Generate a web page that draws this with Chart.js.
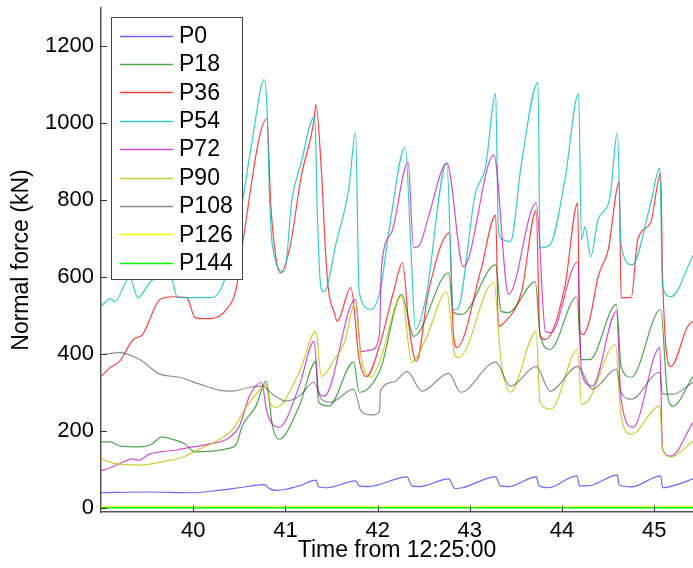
<!DOCTYPE html>
<html lang="en">
<head>
    <meta charset="UTF-8">
    <title>Normal force</title>
    <style>
        body { margin: 0; padding: 0; background: #fff; overflow: hidden; }
        #chart { display: block; }
    </style>
    <script src="https://cdn.jsdelivr.net/npm/chart.js@4.4.1/dist/chart.umd.min.js"></script>
</head>
<body>
    <canvas id="chart" width="693" height="568"></canvas>
    <script>
        // tick labels
        const xTicks = [40, 41, 42, 43, 44, 45];
        const yTicks = [0, 200, 400, 600, 800, 1000, 1200];
        const seriesNames = ['P0', 'P18', 'P36', 'P54', 'P72', 'P90', 'P108', 'P126', 'P144'];

        // time (min after 12:25:00) and force (kN) for each series
        const p0T = [39.0, 39.5, 39.99, 40.3, 40.5, 40.77, 40.83, 40.9, 41.15, 41.33, 41.36, 41.45, 41.76, 41.8, 41.9, 42.32, 42.37, 42.45, 42.77, 42.84, 42.92, 43.28, 43.33, 43.42, 43.72, 43.75, 43.85, 44.16, 44.19, 44.28, 44.6, 44.62, 44.75, 45.07, 45.09, 45.2, 45.42];
        const p0V = [39, 41, 39, 46, 52, 60, 49, 45, 57, 72, 54, 52, 70, 57, 55, 80, 57, 55, 75, 50, 52, 80, 57, 55, 80, 57, 52, 83, 57, 57, 85, 59, 54, 83, 52, 57, 75];

        const p18T = [39.0, 39.1, 39.21, 39.42, 39.55, 39.66, 39.77, 39.91, 40.02, 40.2, 40.36, 40.47, 40.53, 40.68, 40.79, 40.86, 40.93, 41.15, 41.33, 41.36, 41.47, 41.74, 41.8, 42.03, 42.26, 42.36, 42.39, 42.77, 42.82, 42.91, 43.28, 43.34, 43.42, 43.71, 43.76, 43.87, 44.16, 44.21, 44.3, 44.59, 44.64, 44.75, 45.07, 45.14, 45.2, 45.42];
        const p18V = [171, 171, 160, 158, 165, 184, 178, 166, 145, 147, 153, 166, 212, 264, 329, 212, 178, 264, 380, 274, 264, 378, 300, 360, 554, 463, 445, 610, 507, 502, 631, 510, 507, 587, 455, 411, 548, 385, 385, 528, 367, 339, 515, 300, 264, 341];

        const p36T = [39.0, 39.1, 39.2, 39.35, 39.45, 39.64, 39.78, 39.93, 40.02, 40.14, 40.36, 40.47, 40.53, 40.8, 40.84, 40.9, 40.95, 41.05, 41.17, 41.31, 41.33, 41.39, 41.44, 41.47, 41.53, 41.56, 41.71, 41.8, 41.88, 42.03, 42.17, 42.27, 42.34, 42.42, 42.55, 42.78, 42.82, 42.86, 43.12, 43.28, 43.31, 43.35, 43.56, 43.72, 43.76, 43.82, 44.03, 44.17, 44.19, 44.23, 44.3, 44.39, 44.5, 44.62, 44.64, 44.75, 44.82, 44.96, 45.07, 45.09, 45.18, 45.36, 45.42];
        const p36V = [341, 364, 380, 437, 450, 541, 548, 546, 494, 491, 515, 574, 678, 1011, 792, 644, 610, 678, 859, 1006, 1048, 877, 644, 559, 507, 484, 572, 385, 341, 429, 559, 636, 471, 380, 560, 714, 455, 416, 618, 760, 471, 476, 561, 773, 445, 437, 574, 792, 460, 450, 489, 600, 670, 846, 546, 546, 696, 740, 869, 600, 367, 470, 485];

        const p54T = [39.0, 39.1, 39.15, 39.31, 39.4, 39.53, 39.62, 39.75, 39.83, 39.99, 40.2, 40.34, 40.43, 40.53, 40.64, 40.77, 40.8, 40.83, 40.86, 40.99, 41.07, 41.17, 41.31, 41.33, 41.34, 41.39, 41.42, 41.55, 41.69, 41.76, 41.8, 41.93, 42.03, 42.12, 42.3, 42.36, 42.41, 42.52, 42.75, 42.82, 42.86, 43.06, 43.17, 43.28, 43.31, 43.36, 43.44, 43.56, 43.74, 43.76, 43.87, 44.03, 44.18, 44.21, 44.25, 44.31, 44.39, 44.52, 44.6, 44.64, 44.76, 44.96, 45.06, 45.09, 45.18, 45.42];
        const p54V = [523, 543, 535, 598, 546, 585, 600, 605, 546, 546, 546, 592, 690, 792, 955, 1112, 1040, 792, 678, 613, 800, 895, 1014, 950, 817, 567, 561, 688, 833, 975, 559, 515, 567, 714, 937, 678, 463, 541, 895, 515, 515, 817, 885, 1076, 720, 696, 691, 895, 1105, 675, 683, 851, 1076, 696, 730, 652, 748, 807, 975, 683, 631, 790, 882, 574, 548, 655];

        const p72T = [39.0, 39.1, 39.24, 39.35, 39.4, 39.53, 39.64, 39.82, 39.99, 40.18, 40.36, 40.5, 40.61, 40.74, 40.8, 40.93, 41.15, 41.31, 41.36, 41.42, 41.76, 41.82, 41.93, 42.02, 42.04, 42.15, 42.33, 42.39, 42.45, 42.55, 42.75, 42.93, 43.26, 43.42, 43.72, 43.82, 43.88, 44.17, 44.21, 44.33, 44.59, 44.64, 44.77, 45.06, 45.09, 45.18, 45.42];
        const p72V = [96, 104, 119, 127, 123, 140, 145, 150, 158, 166, 178, 212, 290, 326, 248, 209, 316, 432, 300, 290, 541, 406, 410, 450, 620, 714, 898, 675, 680, 755, 895, 626, 916, 554, 792, 458, 455, 639, 352, 316, 510, 282, 209, 416, 153, 134, 222];

        const p90T = [39.0, 39.13, 39.42, 39.71, 39.89, 40.07, 40.25, 40.43, 40.58, 40.75, 40.79, 40.83, 40.9, 41.15, 41.33, 41.39, 41.53, 41.64, 41.76, 41.82, 41.93, 42.03, 42.26, 42.37, 42.52, 42.75, 42.84, 42.88, 43.26, 43.34, 43.44, 43.72, 43.76, 43.88, 44.17, 44.21, 44.28, 44.58, 44.64, 44.75, 45.06, 45.09, 45.18, 45.42];
        const p90V = [127, 116, 111, 122, 132, 153, 173, 204, 264, 313, 320, 274, 261, 352, 458, 341, 385, 429, 536, 393, 339, 385, 550, 378, 437, 561, 393, 390, 585, 378, 300, 458, 274, 256, 411, 269, 277, 424, 238, 191, 264, 153, 132, 173];

        const p108T = [39.0, 39.21, 39.42, 39.64, 39.85, 40.07, 40.29, 40.43, 40.61, 40.75, 40.86, 41.01, 41.15, 41.31, 41.39, 41.49, 41.74, 41.82, 41.93, 42.02, 42.03, 42.17, 42.32, 42.48, 42.77, 42.9, 43.28, 43.44, 43.72, 43.87, 44.17, 44.33, 44.59, 44.64, 44.75, 45.06, 45.09, 45.2, 45.42];
        const p108V = [398, 403, 385, 347, 339, 321, 305, 303, 313, 316, 295, 277, 290, 326, 282, 274, 308, 251, 241, 250, 303, 326, 354, 303, 349, 300, 378, 316, 367, 303, 367, 308, 360, 300, 282, 352, 295, 295, 326];

        const p126T = [39.0, 42.0, 45.42];
        const p126V = [2, 2, 2];

        const p144T = [39.0, 42.0, 45.42];
        const p144V = [0, 0, 0];

        const colors = [
            'rgba(0, 0, 255, 0.6)',
            'rgba(0, 128, 0, 0.7)',
            'rgba(255, 0, 0, 0.75)',
            'rgba(0, 191, 191, 0.8)',
            'rgba(191, 0, 191, 0.7)',
            'rgba(191, 191, 0, 0.8)',
            'rgba(64, 64, 64, 0.6)',
            'rgba(255, 255, 0, 1)',
            'rgba(0, 255, 0, 1)'
        ];

        const allT = [p0T, p18T, p36T, p54T, p72T, p90T, p108T, p126T, p144T];
        const allV = [p0V, p18V, p36V, p54V, p72V, p90V, p108V, p126V, p144V];

        const fontFamily = "Arial, 'Liberation Sans', sans-serif";

        const datasets = seriesNames.map((name, i) => ({
            label: name,
            data: allT[i].map((t, k) => ({ x: t, y: allV[i][k] })),
            borderColor: colors[i],
            backgroundColor: colors[i],
            borderWidth: i >= 7 ? 1.5 : 1.2,
            pointRadius: 0,
            cubicInterpolationMode: 'monotone',
            order: seriesNames.length - i
        }));

        // matlab style ticks pointing inside the axes
        const innerTicks = {
            id: 'innerTicks',
            afterDatasetsDraw(chart) {
                const ctx = chart.ctx;
                const xs = chart.scales.x, ys = chart.scales.y;
                const area = chart.chartArea;
                ctx.save();
                ctx.strokeStyle = '#333';
                ctx.lineWidth = 1;
                ctx.beginPath();
                xTicks.forEach(v => {
                    const px = Math.round(xs.getPixelForValue(v)) + 0.5;
                    ctx.moveTo(px, area.bottom);
                    ctx.lineTo(px, area.bottom - 6);
                });
                yTicks.forEach(v => {
                    const py = Math.round(ys.getPixelForValue(v)) + 0.5;
                    ctx.moveTo(area.left, py);
                    ctx.lineTo(area.left + 6, py);
                });
                ctx.stroke();
                ctx.restore();
            }
        };

        // legend box in the upper left, drawn over the lines
        const boxLegend = {
            id: 'boxLegend',
            afterDatasetsDraw(chart) {
                const ctx = chart.ctx;
                const left = 111, top = 17, right = 242, bottom = 279;
                ctx.save();
                ctx.fillStyle = '#fff';
                ctx.fillRect(left, top, right - left, bottom - top);
                ctx.strokeStyle = '#444';
                ctx.lineWidth = 1;
                ctx.strokeRect(left + 0.5, top + 0.5, right - left, bottom - top);
                ctx.font = '23px ' + fontFamily;
                ctx.textBaseline = 'middle';
                ctx.textAlign = 'left';
                chart.data.datasets.forEach((ds, i) => {
                    const y = 35.5 + i * 28.4;
                    ctx.strokeStyle = ds.borderColor;
                    ctx.lineWidth = 1.5;
                    ctx.beginPath();
                    ctx.moveTo(120, Math.round(y) + 0.5);
                    ctx.lineTo(173, Math.round(y) + 0.5);
                    ctx.stroke();
                    ctx.fillStyle = '#000';
                    ctx.fillText(ds.label, 179, y + 1);
                });
                ctx.restore();
            }
        };

        new Chart(document.getElementById('chart'), {
            type: 'line',
            data: { datasets: datasets },
            options: {
                responsive: false,
                animation: false,
                events: [],
                layout: { padding: { top: 8, right: 0, left: 0, bottom: 0 } },
                plugins: {
                    legend: { display: false },
                    tooltip: { enabled: false }
                },
                scales: {
                    x: {
                        type: 'linear',
                        min: 39.0,
                        max: 45.42,
                        afterBuildTicks: s => { s.ticks = xTicks.map(v => ({ value: v })); },
                        afterFit: s => {
                            s.height = 56;
                            s.paddingLeft = 0;
                            s.paddingRight = 0;
                        },
                        grid: { display: false, drawTicks: false },
                        border: { display: true, color: '#555', width: 1.5 },
                        ticks: {
                            color: '#000',
                            padding: 6,
                            maxRotation: 0,
                            font: { family: fontFamily, size: 22 }
                        },
                        title: {
                            display: true,
                            text: 'Time from 12:25:00',
                            color: '#000',
                            padding: { top: 0, bottom: 4 },
                            font: { family: fontFamily, size: 23 }
                        }
                    },
                    y: {
                        min: -11,
                        max: 1298,
                        afterBuildTicks: s => { s.ticks = yTicks.map(v => ({ value: v })); },
                        afterFit: s => {
                            s.width = 101;
                            s.paddingTop = 0;
                            s.paddingBottom = 0;
                        },
                        grid: { display: false, drawTicks: false },
                        border: { display: true, color: '#555', width: 1.5 },
                        ticks: {
                            color: '#000',
                            padding: 7,
                            callback: v => String(v),
                            font: { family: fontFamily, size: 22 }
                        },
                        title: {
                            display: true,
                            text: 'Normal force (kN)',
                            color: '#000',
                            padding: { top: 8, bottom: 0 },
                            font: { family: fontFamily, size: 23 }
                        }
                    }
                }
            },
            plugins: [innerTicks, boxLegend]
        });
    </script>
</body>
</html>
